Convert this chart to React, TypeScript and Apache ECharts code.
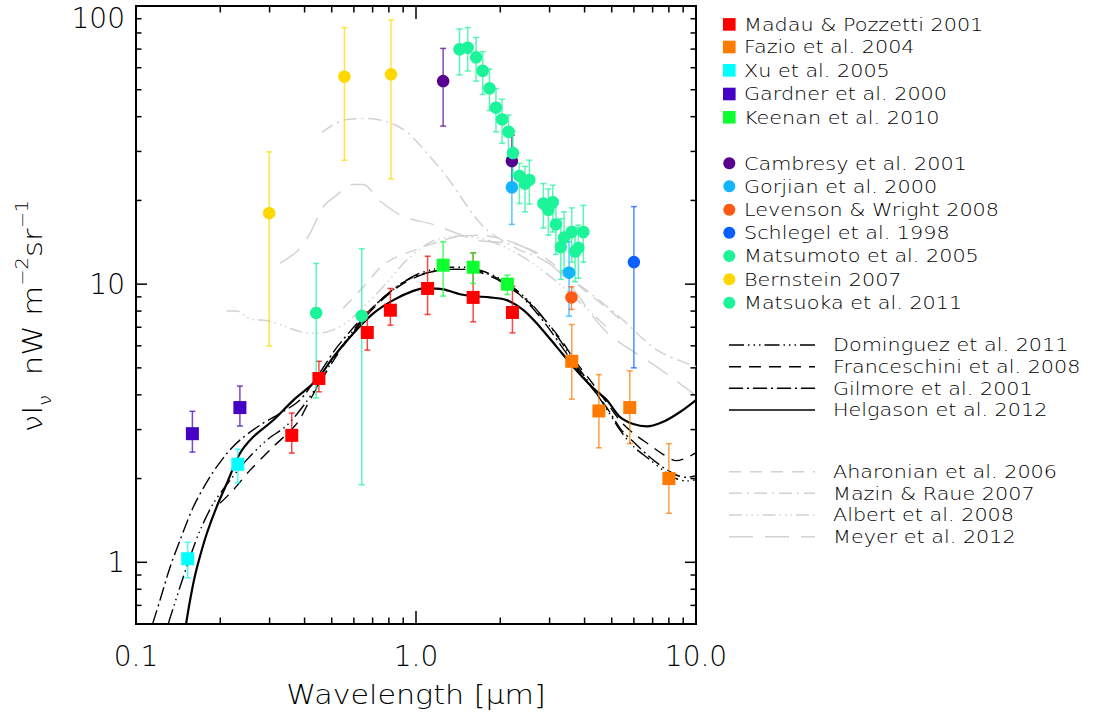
import React, { useEffect, useRef } from 'react';
import * as echarts from 'echarts';

const FONT = '"DejaVu Sans", "Noto Sans", sans-serif';
const WEIGHT = 200;

// ---------- measurements: wavelength [μm], νIν [nW m^-2 sr^-1], error-bar bounds ----------
const madauLambda = [0.36, 0.45, 0.67, 0.81, 1.1, 1.6, 2.21];
const madauValue = [2.86, 4.58, 6.7, 8.06, 9.65, 8.96, 7.91];
const madauLow = [2.47, 4.1, 5.79, 7.12, 7.78, 7.32, 6.68];
const madauHigh = [3.44, 5.28, 7.95, 9.65, 12.6, 12.96, 9.83];

const fazioLambda = [3.6, 4.5, 5.8, 8.0];
const fazioValue = [5.28, 3.5, 3.6, 2.0];
const fazioLow = [3.86, 2.58, 2.67, 1.5];
const fazioHigh = [7.16, 4.73, 4.88, 2.67];

const xuLambda = [0.153, 0.231];
const xuValue = [1.03, 2.25];
const xuLow = [0.88, 1.93];
const xuHigh = [1.18, 2.55];

const gardnerLambda = [0.159, 0.235];
const gardnerValue = [2.9, 3.6];
const gardnerLow = [2.49, 3.09];
const gardnerHigh = [3.49, 4.3];

const keenanLambda = [1.25, 1.6, 2.12];
const keenanValue = [11.7, 11.5, 10.0];
const keenanLow = [9.06, 10.06, 9.18];
const keenanHigh = [14.2, 12.96, 10.77];

const cambresyLambda = [1.25, 2.2];
const cambresyValue = [53.7, 27.7];
const cambresyLow = [37.0, 21.8];
const cambresyHigh = [70.4, 34.3];

const gorjianLambda = [2.2, 3.52];
const gorjianValue = [22.3, 11.0];
const gorjianLow = [16.4, 7.67];
const gorjianHigh = [28.1, 14.2];

const levensonLambda = [3.59];
const levensonValue = [8.96];
const levensonLow = [8.11];
const levensonHigh = [9.78];

const schlegelLambda = [6.0];
const schlegelValue = [12.0];
const schlegelLow = [5.0];
const schlegelHigh = [19.0];

const matsumotoLambda = [1.43, 1.53, 1.64, 1.73, 1.83, 1.93, 2.03, 2.14, 2.22, 2.34, 2.45, 2.54, 2.85, 2.97, 3.08, 3.16, 3.29, 3.38, 3.6, 3.7, 3.8, 3.96];
const matsumotoValue = [69.9, 70.8, 65.4, 58.5, 50.6, 43.1, 39.1, 35.3, 29.6, 24.5, 23.0, 23.7, 19.5, 18.5, 19.7, 16.4, 13.6, 14.7, 15.4, 13.1, 13.5, 15.4];
const matsumotoLow = [56.5, 58.4, 53.7, 48.1, 42.1, 35.3, 32.1, 28.5, 24.5, 19.5, 18.2, 19.4, 15.9, 15.0, 15.4, 12.8, 10.4, 11.2, 12.0, 10.2, 10.5, 12.0];
const matsumotoHigh = [82.7, 83.6, 77.1, 68.5, 59.3, 50.5, 46.2, 40.5, 35.5, 27.2, 26.5, 27.9, 23.0, 22.0, 22.7, 19.8, 17.2, 18.2, 18.8, 16.0, 16.3, 19.2];

const bernsteinLambda = [0.299, 0.555, 0.814];
const bernsteinValue = [18.0, 55.7, 56.8];
const bernsteinLow = [6.0, 27.9, 23.9];
const bernsteinHigh = [29.9, 83.6, 89.1];

const matsuokaLambda = [0.44, 0.64];
const matsuokaValue = [7.88, 7.69];
const matsuokaLow = [3.9, 1.9];
const matsuokaHigh = [11.87, 13.4];

// ---------- EBL models: wavelength [μm] and νIν ----------
const dominguezLambda = [0.1304, 0.1436, 0.156, 0.1692, 0.189, 0.2167, 0.248, 0.293, 0.345, 0.4, 0.45, 0.52, 0.63, 0.75, 0.88, 1.0, 1.15, 1.3, 1.5, 1.7, 1.95, 2.2, 2.5, 2.9, 3.3, 3.7, 4.2, 4.8, 5.4, 6.0, 6.8, 7.6, 8.5, 9.3, 10.0];
const dominguezValue = [0.602, 0.815, 1.045, 1.3, 1.63, 1.97, 2.33, 2.75, 3.1, 3.7, 4.4, 5.6, 7.3, 8.8, 10.0, 10.8, 11.3, 11.5, 11.5, 11.2, 10.6, 9.8, 8.8, 7.4, 6.2, 5.2, 4.35, 3.55, 2.95, 2.6, 2.35, 2.15, 2.0, 1.96, 1.98];

const franceschiniLambda = [0.1995, 0.2226, 0.255, 0.309, 0.375, 0.418, 0.47, 0.55, 0.65, 0.76, 0.88, 1.0, 1.15, 1.3, 1.5, 1.7, 1.95, 2.2, 2.5, 2.9, 3.3, 3.7, 4.2, 4.8, 5.4, 6.0, 6.8, 7.6, 8.5, 9.3, 10.0];
const franceschiniValue = [1.63, 1.82, 2.14, 2.6, 3.15, 3.83, 4.7, 6.0, 7.5, 8.8, 9.9, 10.6, 11.1, 11.3, 11.3, 11.0, 10.4, 9.6, 8.7, 7.4, 6.3, 5.3, 4.5, 3.75, 3.2, 2.9, 2.65, 2.45, 2.32, 2.38, 2.48];

const gilmoreLambda = [0.1147, 0.1218, 0.1323, 0.1436, 0.1602, 0.1838, 0.211, 0.235, 0.277, 0.327, 0.385, 0.45, 0.52, 0.63, 0.75, 0.88, 1.0, 1.15, 1.3, 1.5, 1.7, 1.95, 2.2, 2.5, 2.9, 3.3, 3.7, 4.2, 4.8, 5.4, 6.0, 6.8, 7.6, 8.5, 9.3, 10.0];
const gilmoreValue = [0.602, 0.73, 0.96, 1.2, 1.58, 2.03, 2.46, 2.75, 3.11, 3.43, 3.83, 4.75, 5.9, 7.4, 8.8, 10.0, 10.7, 11.1, 11.3, 11.3, 11.1, 10.5, 9.7, 8.6, 7.2, 6.0, 5.1, 4.3, 3.6, 3.0, 2.7, 2.4, 2.2, 2.06, 2.02, 2.05];

const helgasonLambda = [0.151, 0.156, 0.162, 0.169, 0.179, 0.194, 0.211, 0.235, 0.262, 0.309, 0.365, 0.442, 0.507, 0.597, 0.704, 0.83, 0.978, 1.092, 1.252, 1.436, 1.6, 1.837, 2.11, 2.42, 2.77, 3.18, 3.65, 4.3, 4.8, 5.35, 5.97, 6.67, 7.64, 8.77, 10.0];
const helgasonValue = [0.602, 0.73, 0.885, 1.045, 1.269, 1.58, 1.92, 2.46, 2.82, 3.24, 3.83, 4.52, 5.48, 6.65, 7.85, 8.76, 9.46, 9.65, 9.57, 9.2, 9.05, 8.96, 8.76, 8.06, 7.02, 5.95, 5.04, 4.22, 3.83, 3.33, 3.14, 3.08, 3.2, 3.47, 3.83];

const aharonianLambda = [0.55, 0.65, 0.754, 0.85, 0.978, 1.2, 1.4, 1.7, 2.0, 2.27, 2.77, 3.3, 4.0, 4.8, 5.5];
const aharonianValue = [8.2, 9.8, 11.6, 12.5, 13.2, 14.2, 14.8, 15.0, 14.6, 14.0, 12.8, 11.2, 9.5, 8.2, 7.3];

const mazinLambda = [0.461, 0.55, 0.667, 0.786, 0.926, 1.122, 1.289, 1.74, 2.3, 2.77, 3.3, 3.96, 5.35, 7.24, 10.0];
const mazinValue = [35.1, 38.9, 39.4, 38.4, 35.3, 28.7, 24.3, 16.1, 13.4, 12.4, 11.0, 9.7, 7.6, 5.8, 5.05];

const albertLambda = [0.211, 0.229, 0.255, 0.293, 0.334, 0.385, 0.442, 0.506, 0.581, 0.667, 0.786, 0.926, 1.15, 1.44, 1.8, 2.2, 2.7, 3.3, 4.0, 4.8];
const albertValue = [8.0, 8.0, 7.5, 7.4, 7.1, 6.75, 6.65, 6.85, 7.45, 8.5, 10.1, 12.2, 14.3, 14.9, 14.4, 13.2, 11.6, 9.9, 8.3, 7.0];

const meyerLambda = [0.327, 0.375, 0.418, 0.467, 0.521, 0.589, 0.648, 0.744, 0.901, 1.15, 1.65, 2.35, 3.27, 4.78, 7.25, 9.8];
const meyerValue = [11.9, 13.1, 15.2, 19.0, 20.9, 22.8, 22.8, 19.9, 17.5, 16.4, 14.4, 13.8, 10.96, 6.74, 5.04, 4.04];

// ---------- axis ticks ----------
const xMajorTicks = [0.1, 1, 10];
const xMinorTicks = [0.2, 0.3, 0.4, 0.5, 0.6, 0.7, 0.8, 0.9, 2, 3, 4, 5, 6, 7, 8, 9];
const yMajorTicks = [1, 10, 100];
const yMinorTicks = [0.7, 0.8, 0.9, 2, 3, 4, 5, 6, 7, 8, 9, 20, 30, 40, 50, 60, 70, 80, 90];

type Measurement = {
  name: string; shape: 'rect' | 'circle'; color: string;
  lambda: number[]; value: number[]; low: number[]; high: number[];
};

const squareSets: Measurement[] = [
  { name: 'Madau & Pozzetti 2001', shape: 'rect', color: '#ff0000', lambda: madauLambda, value: madauValue, low: madauLow, high: madauHigh },
  { name: 'Fazio et al. 2004', shape: 'rect', color: '#ff7a00', lambda: fazioLambda, value: fazioValue, low: fazioLow, high: fazioHigh },
  { name: 'Xu et al. 2005', shape: 'rect', color: '#00ffff', lambda: xuLambda, value: xuValue, low: xuLow, high: xuHigh },
  { name: 'Gardner et al. 2000', shape: 'rect', color: '#4400c4', lambda: gardnerLambda, value: gardnerValue, low: gardnerLow, high: gardnerHigh },
  { name: 'Keenan et al. 2010', shape: 'rect', color: '#0cff2e', lambda: keenanLambda, value: keenanValue, low: keenanLow, high: keenanHigh },
];

const circleSets: Measurement[] = [
  { name: 'Cambresy et al. 2001', shape: 'circle', color: '#57008f', lambda: cambresyLambda, value: cambresyValue, low: cambresyLow, high: cambresyHigh },
  { name: 'Gorjian et al. 2000', shape: 'circle', color: '#14b4ff', lambda: gorjianLambda, value: gorjianValue, low: gorjianLow, high: gorjianHigh },
  { name: 'Levenson & Wright 2008', shape: 'circle', color: '#ff5a14', lambda: levensonLambda, value: levensonValue, low: levensonLow, high: levensonHigh },
  { name: 'Schlegel et al. 1998', shape: 'circle', color: '#0a5fff', lambda: schlegelLambda, value: schlegelValue, low: schlegelLow, high: schlegelHigh },
  { name: 'Matsumoto et al. 2005', shape: 'circle', color: '#1cf49a', lambda: matsumotoLambda, value: matsumotoValue, low: matsumotoLow, high: matsumotoHigh },
  { name: 'Bernstein 2007', shape: 'circle', color: '#ffd800', lambda: bernsteinLambda, value: bernsteinValue, low: bernsteinLow, high: bernsteinHigh },
  { name: 'Matsuoka et al. 2011', shape: 'circle', color: '#1cf49a', lambda: matsuokaLambda, value: matsuokaValue, low: matsuokaLow, high: matsuokaHigh },
];

type Model = { name: string; color: string; width: number; dash: number[] | 'solid'; lambda: number[]; value: number[] };

const GRAY = '#d2d2d2';

const blackModels: Model[] = [
  { name: 'Dominguez et al. 2011', color: '#000', width: 1.4, dash: [15, 4, 1.5, 4, 1.5, 4, 1.5, 4], lambda: dominguezLambda, value: dominguezValue },
  { name: 'Franceschini et al. 2008', color: '#000', width: 1.4, dash: [12, 8], lambda: franceschiniLambda, value: franceschiniValue },
  { name: 'Gilmore et al. 2001', color: '#000', width: 1.4, dash: [14, 4, 2, 4], lambda: gilmoreLambda, value: gilmoreValue },
  { name: 'Helgason et al. 2012', color: '#000', width: 2.2, dash: 'solid', lambda: helgasonLambda, value: helgasonValue },
];

const grayModels: Model[] = [
  { name: 'Aharonian et al. 2006', color: GRAY, width: 1.5, dash: [12, 9], lambda: aharonianLambda, value: aharonianValue },
  { name: 'Mazin & Raue 2007', color: GRAY, width: 1.5, dash: [13, 5, 2, 5], lambda: mazinLambda, value: mazinValue },
  { name: 'Albert et al. 2008', color: GRAY, width: 1.5, dash: [13, 4, 1.5, 4, 1.5, 4, 1.5, 4], lambda: albertLambda, value: albertValue },
  { name: 'Meyer et al. 2012', color: GRAY, width: 1.5, dash: [24, 12], lambda: meyerLambda, value: meyerValue },
];

const zip2 = (a: number[], b: number[]) => a.map((x, i) => [x, b[i]]);
const zip3 = (a: number[], b: number[], c: number[]) => a.map((x, i) => [x, b[i], c[i]]);

function errorBarRenderer(color: string) {
  return (_params: any, api: any) => {
    const x = api.value(0);
    const top = api.coord([x, api.value(2)]);
    const bottom = api.coord([x, api.value(1)]);
    const half = 3;
    const style = { stroke: color, lineWidth: 1.5, opacity: 0.72 };
    return {
      type: 'group',
      children: [
        { type: 'line', shape: { x1: top[0], y1: top[1], x2: bottom[0], y2: bottom[1] }, style },
        { type: 'line', shape: { x1: top[0] - half, y1: top[1], x2: top[0] + half, y2: top[1] }, style },
        { type: 'line', shape: { x1: bottom[0] - half, y1: bottom[1], x2: bottom[0] + half, y2: bottom[1] }, style },
      ],
    };
  };
}

// tick marks on all four sides of the frame, placed through the axes' log scales
function tickRenderer(params: any, api: any) {
  const cs = params.coordSys;
  const kind = api.value(2);
  const major = api.value(3) === 1;
  const style = { stroke: '#000', lineWidth: 1.5 };
  if (kind === 0) {
    const px = api.coord([api.value(0), 1])[0];
    const len = major ? 13 : 6.5;
    const bottom = cs.y + cs.height;
    return {
      type: 'group',
      children: [
        { type: 'line', shape: { x1: px, y1: bottom, x2: px, y2: bottom - len }, style },
        { type: 'line', shape: { x1: px, y1: cs.y, x2: px, y2: cs.y + len }, style },
      ],
    };
  }
  const py = api.coord([1, api.value(1)])[1];
  const len = major ? 11 : 5.5;
  const right = cs.x + cs.width;
  return {
    type: 'group',
    children: [
      { type: 'line', shape: { x1: cs.x, y1: py, x2: cs.x + len, y2: py }, style },
      { type: 'line', shape: { x1: right, y1: py, x2: right - len, y2: py }, style },
    ],
  };
}

const tickData = [
  ...xMajorTicks.map((v) => [v, 1, 0, 1]),
  ...xMinorTicks.map((v) => [v, 1, 0, 0]),
  ...yMajorTicks.map((v) => [1, v, 1, 1]),
  ...yMinorTicks.map((v) => [1, v, 1, 0]),
];

// legend layout
const LEGEND_MARKER_X = 729.3;
const LEGEND_TEXT_X = 744;
const SQUARE_ROWS = [24.4, 47, 70.3, 94, 117.3];
const CIRCLE_ROWS = [163.3, 186.3, 209.7, 232.7, 256, 279.3, 302.7];
const LINE_X1 = 729;
const LINE_X2 = 815;
const LINE_TEXT_X = 833;
const BLACK_ROWS = [345, 366.7, 388.3, 410];
const GRAY_ROWS = [471.7, 493.3, 515, 536.7];

function legendText(text: string, x: number, y: number) {
  return {
    type: 'text',
    x,
    y,
    scaleX: 1.22,
    silent: true,
    style: {
      text,
      fill: '#000',
      fontSize: 17,
      fontWeight: WEIGHT,
      fontFamily: FONT,
      align: 'left',
      verticalAlign: 'middle',
      textAlign: 'left',
      textVerticalAlign: 'middle',
    },
  };
}

function buildLegend() {
  const els: any[] = [];
  squareSets.forEach((d, i) => {
    const cy = SQUARE_ROWS[i];
    els.push({ type: 'rect', silent: true, shape: { x: LEGEND_MARKER_X - 6.3, y: cy - 6.3, width: 12.6, height: 12.6 }, style: { fill: d.color } });
    els.push(legendText(d.name, LEGEND_TEXT_X, cy));
  });
  circleSets.forEach((d, i) => {
    const cy = CIRCLE_ROWS[i];
    els.push({ type: 'circle', silent: true, shape: { cx: LEGEND_MARKER_X, cy, r: 6 }, style: { fill: d.color } });
    els.push(legendText(d.name, LEGEND_TEXT_X, cy));
  });
  const lineRows = (models: Model[], rows: number[]) =>
    models.forEach((m, i) => {
      const y = rows[i];
      els.push({
        type: 'line',
        silent: true,
        shape: { x1: LINE_X1, y1: y, x2: LINE_X2, y2: y },
        style: { stroke: m.color, lineWidth: m.dash === 'solid' ? 1.6 : 1.4, lineDash: m.dash === 'solid' ? null : m.dash },
      });
      els.push(legendText(m.name, LINE_TEXT_X, y));
    });
  lineRows(blackModels, BLACK_ROWS);
  lineRows(grayModels, GRAY_ROWS);
  return els;
}

export default function App() {
  const ref = useRef<HTMLDivElement>(null);

  useEffect(() => {
    if (!ref.current) return;
    const chart = echarts.init(ref.current, undefined, { renderer: 'svg' });
    const allSets = [...squareSets, ...circleSets];

    const option: any = {
      animation: false,
      backgroundColor: '#ffffff',
      grid: {
        left: 136,
        right: 403,
        top: 6,
        bottom: 95,
        show: true,
        borderColor: '#000',
        borderWidth: 2,
        backgroundColor: 'transparent',
        containLabel: false,
        outerBoundsMode: 'none',
      },
      xAxis: {
        type: 'log',
        logBase: 10,
        min: 0.1,
        max: 10,
        axisLine: { show: false },
        axisTick: { show: false },
        splitLine: { show: false },
        minorTick: { show: false },
        axisLabel: {
          color: '#000',
          fontSize: 28,
          fontWeight: WEIGHT,
          fontFamily: FONT,
          margin: 18,
          formatter: (v: number) => v.toFixed(1),
        },
      },
      yAxis: {
        type: 'log',
        logBase: 10,
        min: 0.6,
        max: 100,
        axisLine: { show: false },
        axisTick: { show: false },
        splitLine: { show: false },
        minorTick: { show: false },
        axisLabel: {
          color: '#000',
          fontSize: 28,
          fontWeight: WEIGHT,
          fontFamily: FONT,
          margin: 11,
          showMinLabel: false,
          formatter: (v: number) => {
            const r = Math.round(v);
            return r === 100 ? '{t|100}' : String(r);
          },
          rich: {
            t: { fontSize: 28, fontWeight: WEIGHT, fontFamily: FONT, color: '#000', padding: [24, 0, 0, 0] },
          },
        },
      },
      graphic: {
        elements: [
          {
            // x-axis title
            type: 'text',
            x: 416,
            y: 695,
            scaleX: 1.16,
            silent: true,
            style: {
              text: 'Wavelength [μm]',
              fill: '#000',
              fontSize: 26,
              fontWeight: WEIGHT,
              fontFamily: FONT,
              align: 'center',
              verticalAlign: 'middle',
            },
          },
          {
            // y-axis title
            type: 'text',
            x: 33,
            y: 432,
            rotation: Math.PI / 2,
            scaleX: 1.14,
            silent: true,
            style: {
              text: '{a|νI}{s|ν}{a|  nW m}{p|−2}{a|sr}{p|−1}',
              fill: '#000',
              align: 'left',
              verticalAlign: 'middle',
              rich: {
                a: { fontSize: 27, fontWeight: WEIGHT, fontFamily: FONT, lineHeight: 40, fill: '#000' },
                s: { fontSize: 17, fontWeight: WEIGHT, fontFamily: FONT, lineHeight: 22, verticalAlign: 'bottom', fill: '#000' },
                p: { fontSize: 17, fontWeight: WEIGHT, fontFamily: FONT, lineHeight: 16, verticalAlign: 'top', fill: '#000' },
              },
            },
          },
          ...buildLegend(),
        ],
      },
      series: [
        ...[...grayModels, ...blackModels].map((m) => ({
          type: 'line',
          name: m.name,
          data: zip2(m.lambda, m.value),
          showSymbol: false,
          symbol: 'none',
          smooth: 0.3,
          silent: true,
          z: m.color === GRAY ? 1 : 2,
          lineStyle: { color: m.color, width: m.width, type: m.dash },
        })),
        ...allSets.map((d) => ({
          type: 'custom',
          name: d.name + ' error',
          data: zip3(d.lambda, d.low, d.high),
          encode: { x: 0, y: [1, 2] },
          renderItem: errorBarRenderer(d.color),
          silent: true,
          z: 3,
        })),
        ...allSets.map((d) => ({
          type: 'scatter',
          name: d.name,
          data: zip2(d.lambda, d.value),
          symbol: d.shape,
          symbolSize: d.shape === 'rect' ? 13 : 12.5,
          silent: true,
          z: 4,
          itemStyle: { color: d.color, opacity: 1, borderWidth: 0 },
        })),
        {
          type: 'custom',
          name: 'frame ticks',
          data: tickData,
          encode: { x: 0, y: 1 },
          renderItem: tickRenderer,
          silent: true,
          clip: false,
          z: 5,
        },
      ],
    };

    chart.setOption(option);
    return () => chart.dispose();
  }, []);

  return (
    <div
      ref={ref}
      style={{ position: 'fixed', left: 0, top: 0, width: 1099, height: 719, background: '#fff' }}
    />
  );
}
